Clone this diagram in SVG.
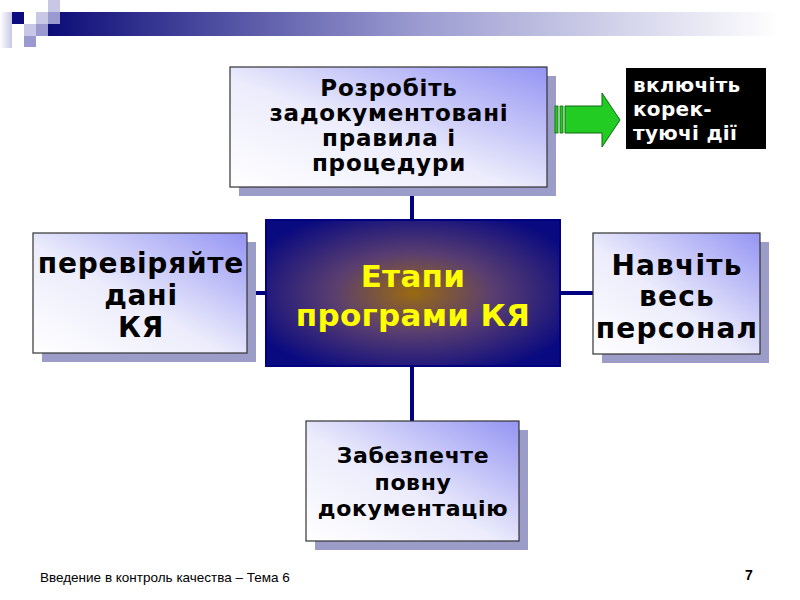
<svg xmlns="http://www.w3.org/2000/svg" width="800" height="600" viewBox="0 0 800 600">
<defs>
<linearGradient id="band" x1="0" y1="0" x2="1" y2="0">
<stop offset="0" stop-color="#0c0c78"/>
<stop offset="0.5" stop-color="#9a9ad0"/>
<stop offset="1" stop-color="#ffffff"/>
</linearGradient>
<linearGradient id="strip" x1="0" y1="0" x2="1" y2="0">
<stop offset="0" stop-color="#ffffff"/>
<stop offset="1" stop-color="#c8c8e6"/>
</linearGradient>
<linearGradient id="box" x1="0" y1="1" x2="1" y2="0">
<stop offset="0" stop-color="#ffffff"/>
<stop offset="0.45" stop-color="#ececfc"/>
<stop offset="1" stop-color="#9494f4"/>
</linearGradient>
<radialGradient id="core" cx="0.5" cy="0.5" r="0.6">
<stop offset="0" stop-color="#9a6a10"/>
<stop offset="0.45" stop-color="#5a3e70"/>
<stop offset="1" stop-color="#0a0a80"/>
</radialGradient>
<style>
.shadow{fill:#9c9cc8}
.node{fill:url(#box);stroke:#333;stroke-width:1.2}
.t{font-family:"DejaVu Sans",Verdana,sans-serif;font-weight:bold;fill:#000;text-anchor:middle}
.conn{stroke:#000080;stroke-width:4;fill:none}
</style>
</defs>
<rect width="800" height="600" fill="#fff"/>
<g id="header">
<rect x="0" y="12" width="12" height="36" fill="url(#strip)"/>
<rect x="12" y="12" width="12" height="12" fill="#0c0c80"/>
<rect x="48" y="0" width="12" height="12" fill="#c8c8e6"/>
<rect x="36" y="12" width="12" height="12" fill="#c8c8e6"/>
<rect x="24" y="24" width="12" height="12" fill="#c8c8e6"/>
<rect x="36" y="24" width="12" height="12" fill="#9a9ad0"/>
<rect x="24" y="36" width="12" height="11" fill="#9a9ad0"/>
<rect x="48" y="12" width="732" height="24" fill="url(#band)"/>
<rect x="48" y="12" width="12" height="12" fill="#9a9ad0"/>
</g>
<g id="connectors">
<line class="conn" x1="412" y1="187" x2="412" y2="220"/>
<line class="conn" x1="412" y1="366" x2="412" y2="421"/>
<line class="conn" x1="247" y1="293" x2="266" y2="293"/>
<line class="conn" x1="560" y1="293" x2="593" y2="293"/>
</g>
<g id="node-top">
<rect class="shadow" x="239" y="76" width="317" height="120"/>
<rect class="node" x="230" y="67" width="317" height="120"/>
<text class="t" font-size="23" letter-spacing="0.8"><tspan x="389" y="96">Розробіть</tspan><tspan x="389" y="121">задокументовані</tspan><tspan x="389" y="146">правила і</tspan><tspan x="389" y="171">процедури</tspan></text>
</g>
<g id="node-center">
<rect x="266" y="220" width="294" height="146" fill="url(#core)" stroke="#000080" stroke-width="2"/>
<text class="t" font-size="31" letter-spacing="0.3" style="fill:#ffff00"><tspan x="413" y="287">Етапи</tspan><tspan x="413" y="326">програми КЯ</tspan></text>
</g>
<g id="node-left">
<rect class="shadow" x="42" y="242" width="214" height="120"/>
<rect class="node" x="33" y="233" width="214" height="120"/>
<text class="t" font-size="28" letter-spacing="0.8"><tspan x="141" y="273">перевіряйте</tspan><tspan x="141" y="305">дані</tspan><tspan x="141" y="337">КЯ</tspan></text>
</g>
<g id="node-right">
<rect class="shadow" x="602" y="242" width="167" height="121"/>
<rect class="node" x="593" y="233" width="167" height="121"/>
<text class="t" font-size="28" letter-spacing="1.2"><tspan x="677" y="275">Навчіть</tspan><tspan x="677" y="306">весь</tspan><tspan x="677" y="338">персонал</tspan></text>
</g>
<g id="node-bottom">
<rect class="shadow" x="315" y="430" width="213" height="120"/>
<rect class="node" x="306" y="421" width="213" height="120"/>
<text class="t" font-size="22" letter-spacing="0.6"><tspan x="413" y="463">Забезпечте</tspan><tspan x="413" y="490">повну</tspan><tspan x="413" y="516">документацію</tspan></text>
</g>
<g id="arrow">
<rect x="555" y="106" width="3" height="27" fill="#22cc22" stroke="#116611" stroke-width="0.8"/>
<rect x="560" y="106" width="3" height="27" fill="#22cc22" stroke="#116611" stroke-width="0.8"/>
<path d="M565 106 H602 V93 L620 120 L602 147 V133 H565 Z" fill="#22cc22" stroke="#116611" stroke-width="1"/>
</g>
<g id="node-note">
<rect x="626" y="68" width="140" height="81" fill="#000"/>
<text font-family="DejaVu Sans,Verdana,sans-serif" font-weight="bold" font-size="20" letter-spacing="0.3" fill="#fff"><tspan x="633" y="92">включіть</tspan><tspan x="633" y="116">корек-</tspan><tspan x="633" y="140">туючі дії</tspan></text>
</g>
<g id="footer">
<text x="40" y="582" font-family="Liberation Sans,Arial,sans-serif" font-size="13.5" fill="#000">Введение в контроль качества – Тема 6</text>
<text x="745" y="580" font-family="Liberation Sans,Arial,sans-serif" font-weight="bold" font-size="14" fill="#000">7</text>
</g>
</svg>
